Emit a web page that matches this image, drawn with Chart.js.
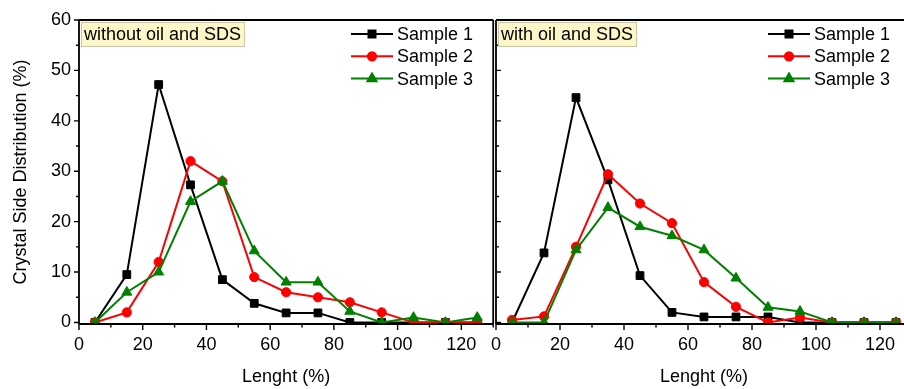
<!DOCTYPE html>
<html lang="en">
<head>
  <meta charset="UTF-8">
  <title>Crystal Side Distribution</title>
  <script src="https://cdn.jsdelivr.net/npm/chart.js"></script>
  <style>
    html, body { margin: 0; padding: 0; background: #fff; overflow: hidden; }
    body { width: 904px; height: 389px; position: relative; }
    .panel { position: absolute; top: 0; height: 389px; }
    #leftWrap { left: 0; width: 500px; }
    #rightWrap { left: 480px; width: 440px; }
  </style>
</head>
<body>
  <div id="leftWrap" class="panel"><canvas id="leftChart" width="500" height="389"></canvas></div>
  <div id="rightWrap" class="panel"><canvas id="rightChart" width="440" height="389"></canvas></div>

  <script>
  // Data
  const lengths = [5, 15, 25, 35, 45, 55, 65, 75, 85, 95, 105, 115, 125];
  const sampleNames = ['Sample 1', 'Sample 2', 'Sample 3'];

  // without oil and SDS
  const leftSample1 = [0, 9.5, 47.2, 27.3, 8.5, 3.8, 1.9, 1.9, 0, 0, 0, 0, 0];
  const leftSample2 = [0, 2, 12, 32, 28, 9, 6, 5, 4, 2, 0, 0, 0];
  const leftSample3 = [0, 6, 10, 24, 28, 14.2, 8, 8, 2.2, 0, 1, 0, 1];

  // with oil and SDS
  const rightSample1 = [0, 13.8, 44.6, 28.3, 9.3, 2.0, 1.1, 1.1, 1.1, 0, 0, 0, 0];
  const rightSample2 = [0.5, 1.2, 15, 29.4, 23.6, 19.7, 8, 3.1, 0, 1, 0, 0, 0];
  const rightSample3 = [0, 0, 14.4, 22.8, 19, 17.2, 14.4, 8.8, 3, 2.2, 0, 0, 0];

  const yTicks = [0, 10, 20, 30, 40, 50, 60];
  const xTicks = [0, 20, 40, 60, 80, 100, 120];

  const colors = ['#000000', '#ff0000', '#008000'];
  const markers = ['rect', 'circle', 'triangle'];
  const radii = [5.5, 4.6, 5.8];
  const FONT = { family: '"Liberation Sans", Arial, sans-serif', size: 18 };

  function makeDatasets(series) {
    return series.map((vals, i) => ({
      label: sampleNames[i],
      data: lengths.map((x, j) => ({ x: x, y: vals[j] })),
      borderColor: colors[i],
      backgroundColor: colors[i],
      pointBackgroundColor: colors[i],
      pointBorderColor: colors[i],
      pointStyle: markers[i],
      pointRadius: radii[i],
      pointBorderWidth: 1,
      borderWidth: 2,
      tension: 0,
      order: 3 - i
    }));
  }

  // frame, tick marks, legend and label box
  const framePlugin = {
    id: 'frame',
    afterDatasetsDraw(chart, args, opts) {
      const { ctx, chartArea: a, scales: { x, y } } = chart;
      ctx.save();
      ctx.strokeStyle = '#000';
      ctx.lineWidth = 1.8;
      ctx.beginPath();
      ctx.moveTo(a.left, a.bottom); ctx.lineTo(a.right, a.bottom);
      ctx.moveTo(a.left, a.top); ctx.lineTo(a.right, a.top);
      ctx.moveTo(a.left, a.top); ctx.lineTo(a.left, a.bottom);
      if (opts.rightEdge) { ctx.moveTo(a.right, a.top); ctx.lineTo(a.right, a.bottom); }
      ctx.stroke();

      ctx.lineWidth = 1.4;
      ctx.beginPath();
      for (let v = 0; v <= 130; v += 10) {
        const px = x.getPixelForValue(v);
        const len = v % 20 === 0 ? 6 : 3.5;
        ctx.moveTo(px, a.bottom); ctx.lineTo(px, a.bottom + len);
      }
      for (let v = 0; v <= 60; v += 5) {
        const py = y.getPixelForValue(v);
        const len = v % 10 === 0 ? 5 : 3;
        ctx.moveTo(a.left, py); ctx.lineTo(a.left + opts.yTickDir * len, py);
      }
      ctx.stroke();

      // label box
      ctx.font = '18px ' + FONT.family;
      const tw = ctx.measureText(opts.note).width;
      ctx.fillStyle = '#fdf6c8';
      ctx.strokeStyle = '#c9c4a8';
      ctx.lineWidth = 1;
      ctx.fillRect(a.left + 2, a.top + 2, tw + 7, 25);
      ctx.strokeRect(a.left + 2.5, a.top + 2.5, tw + 6, 24);
      ctx.fillStyle = '#000';
      ctx.textBaseline = 'middle';
      ctx.textAlign = 'left';
      ctx.fillText(opts.note, a.left + 5, a.top + 15);

      // legend
      chart.data.datasets.forEach((ds, i) => {
        const ly = a.top + 14 + i * 22.3;
        const lx = opts.legendX;
        ctx.strokeStyle = ds.borderColor;
        ctx.fillStyle = ds.borderColor;
        ctx.lineWidth = 2;
        ctx.beginPath();
        ctx.moveTo(lx, ly); ctx.lineTo(lx + 42, ly);
        ctx.stroke();
        Chart.helpers.drawPoint(ctx, { pointStyle: ds.pointStyle, radius: ds.pointRadius * 0.9, rotation: 0, borderWidth: 1 }, lx + 21, ly);
        ctx.fillStyle = '#000';
        ctx.fillText(ds.label, lx + 46, ly + 1);
      });
      ctx.restore();
    }
  };

  function makeChart(id, series, opt) {
    return new Chart(document.getElementById(id), {
      type: 'line',
      data: { datasets: makeDatasets(series) },
      plugins: [framePlugin],
      options: {
        responsive: false,
        animation: false,
        layout: { padding: { top: 20, right: opt.padRight, left: opt.padLeft, bottom: 0 } },
        plugins: {
          legend: { display: false },
          tooltip: { enabled: false },
          frame: { note: opt.note, legendX: opt.legendX, yTickDir: opt.yTickDir, rightEdge: opt.rightEdge }
        },
        scales: {
          x: {
            type: 'linear',
            min: 0,
            max: 130,
            grid: { display: false, drawTicks: false },
            border: { display: false },
            afterBuildTicks: (s) => { s.ticks = xTicks.map(v => ({ value: v })); },
            ticks: { color: '#000', font: FONT, padding: 10, autoSkip: false, maxRotation: 0 },
            title: { display: true, text: 'Lenght (%)', color: '#000', font: FONT, padding: { top: 0, bottom: 1 } },
            afterFit: (s) => { s.height = 65; }
          },
          y: {
            type: 'linear',
            display: opt.showY,
            min: -0.3,
            max: 60,
            grid: { display: false, drawTicks: false },
            border: { display: false },
            afterBuildTicks: (s) => { s.ticks = yTicks.map(v => ({ value: v })); },
            ticks: { color: '#000', font: FONT, padding: 8 },
            title: { display: true, text: 'Crystal Side Distribution (%)', color: '#000', font: FONT, padding: { top: 10, bottom: 0 } },
            afterFit: (s) => { s.width = opt.showY ? 79 : 0; }
          }
        }
      }
    });
  }

  makeChart('leftChart', [leftSample1, leftSample2, leftSample3], {
    note: 'without oil and SDS', legendX: 351, yTickDir: -1, rightEdge: true,
    padLeft: 0, padRight: 4, showY: true
  });
  makeChart('rightChart', [rightSample1, rightSample2, rightSample3], {
    note: 'with oil and SDS', legendX: 288, yTickDir: 1, rightEdge: false,
    padLeft: 16, padRight: 8, showY: false
  });
  </script>
</body>
</html>
